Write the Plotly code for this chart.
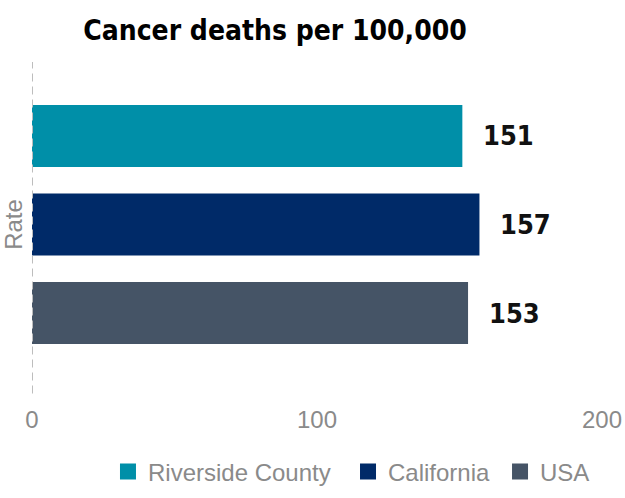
import plotly.graph_objects as go

# Cancer death rate per 100,000 population
regions = ["Riverside County", "California", "USA"]
rates = [151, 157, 153]
colors = ["#008FA8", "#002A68", "#455466"]
axis_label = "Rate"
x_ticks = [0, 100, 200]
chart_title = "Cancer deaths per 100,000"

CONDENSED = "DejaVu Sans Condensed"
SANS = "Liberation Sans, Arial, sans-serif"
GRAY = "#8a8a8a"

# left edge (paper units) of each legend entry, one legend per region
legend_x = [0.1333, 0.5544, 0.8211]
legend_ids = ["legend", "legend2", "legend3"]

fig = go.Figure()

for name, val, col, lid in zip(regions, rates, colors, legend_ids):
    fig.add_trace(go.Bar(
        x=[val], y=[name], orientation="h", name=name,
        marker=dict(color=col, line=dict(width=0)),
        showlegend=False, hoverinfo="x+name",
    ))
    # legend entry with a larger square swatch
    fig.add_trace(go.Scatter(
        x=[None], y=[None], mode="markers", name=name,
        marker=dict(symbol="square", size=16, color=col),
        showlegend=True, legend=lid,
    ))
    fig.add_annotation(
        x=val, y=name, xref="x", yref="y", text=str(val),
        showarrow=False, xanchor="left", xshift=19,
        font=dict(family=CONDENSED, size=27, color="#111111", weight="bold"),
    )

# dashed baseline at zero
fig.add_shape(type="line", xref="x", yref="paper", x0=0, x1=0, y0=-0.02, y1=1.0,
              line=dict(color="#BDBDBD", width=2, dash="8px,5px"), layer="above")

legend_style = dict(orientation="h", xanchor="left", yref="container", y=1 - 472 / 498,
                    yanchor="middle", font=dict(family=SANS, size=24, color=GRAY),
                    itemclick=False, bgcolor="rgba(0,0,0,0)")

fig.update_layout(
    width=625, height=498,
    margin=dict(l=32, r=23, t=62, b=111, autoexpand=False),
    paper_bgcolor="white", plot_bgcolor="white",
    barmode="overlay", bargap=0.3,
    title=dict(text=chart_title, x=0.44, xanchor="center", y=1 - 30 / 498, yanchor="middle",
               font=dict(family=CONDENSED, size=28, color="#000000", weight="bold")),
    xaxis=dict(range=[0, 200], tickvals=x_ticks, showgrid=False, zeroline=False,
               showline=False, ticks="", ticklabelstandoff=16,
               tickfont=dict(family=SANS, size=24, color=GRAY)),
    yaxis=dict(categoryorder="array", categoryarray=regions, range=[2.836, -0.836],
               showticklabels=False, showgrid=False, zeroline=False, showline=False,
               title=dict(text=axis_label, standoff=4, font=dict(family=SANS, size=24, color=GRAY))),
    legend=dict(x=legend_x[0], **legend_style),
    legend2=dict(x=legend_x[1], **legend_style),
    legend3=dict(x=legend_x[2], **legend_style),
)

fig.write_html("out.html")
